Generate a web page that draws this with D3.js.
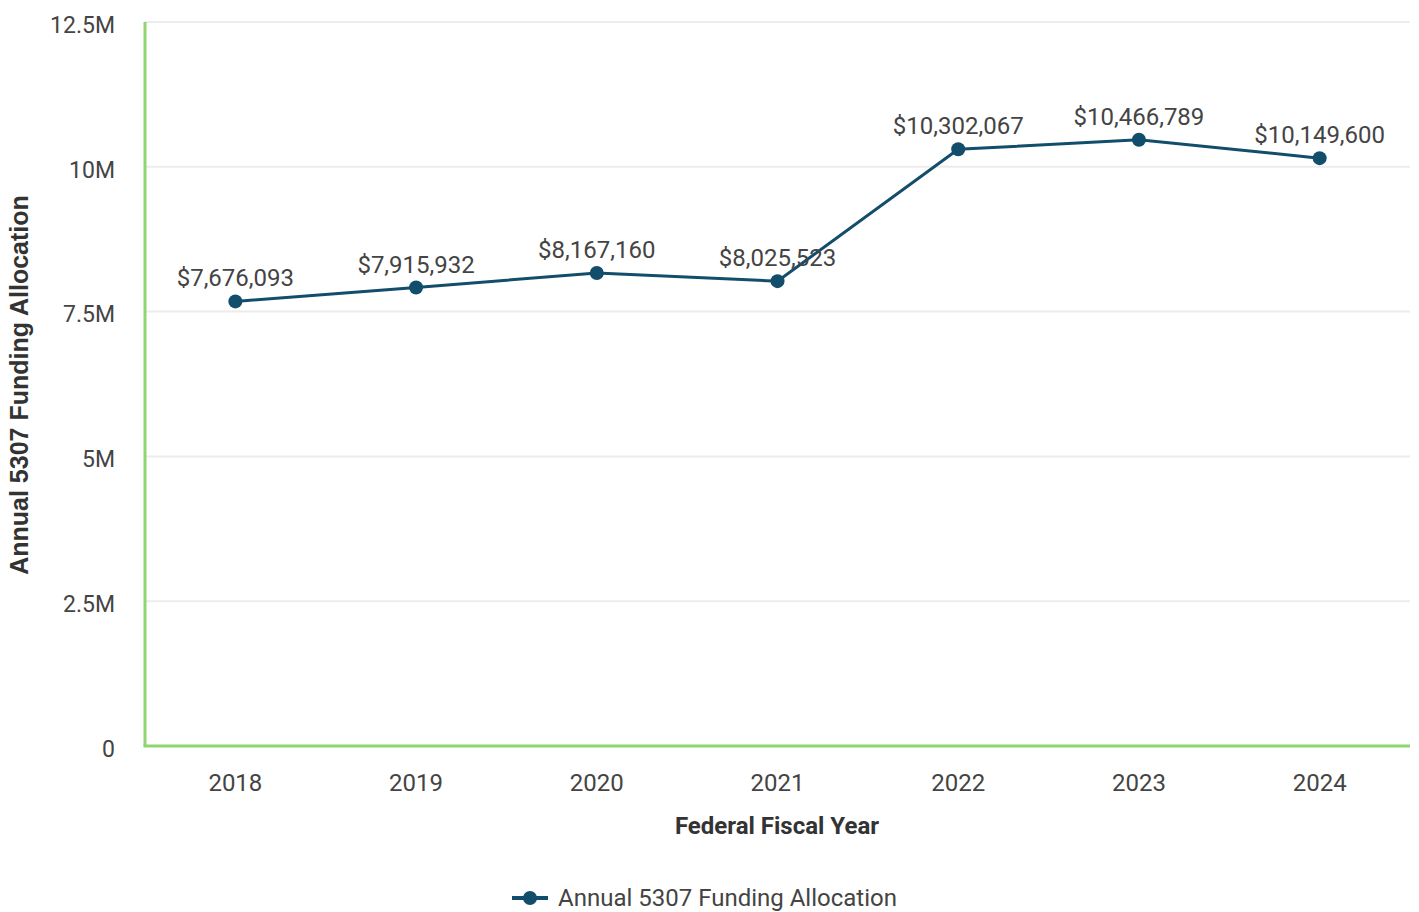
<!DOCTYPE html>
<html><head><meta charset="utf-8">
<script src="https://cdn.jsdelivr.net/npm/d3@7"></script>
<style>body{margin:0;background:#fff}svg{display:block}</style>
</head><body>
<svg id="c" width="1419" height="912"></svg>
<script>
const years = ["2018","2019","2020","2021","2022","2023","2024"];
const values = [7676093, 7915932, 8167160, 8025523, 10302067, 10466789, 10149600];
const yTicks = [0, 2500000, 5000000, 7500000, 10000000, 12500000];
const yTickLabels = ["0","2.5M","5M","7.5M","10M","12.5M"];
const seriesName = "Annual 5307 Funding Allocation";

const svg = d3.select("#c");
const m = {l:145, r:1410, t:22, b:746};
const x = d3.scaleBand().domain(years).range([m.l, m.r]).paddingInner(0).paddingOuter(0);
const y = d3.scaleLinear().domain([0, 12500000]).range([m.b, m.t]);
const lineColor = "#124d6b", green = "#8fd66f", txt = "#444";
const cx = d => x(d) + x.bandwidth()/2;

// grid
svg.append("g").selectAll("line").data(yTicks.slice(1)).join("line")
  .attr("x1", m.l).attr("x2", m.r).attr("y1", d=>y(d)).attr("y2", d=>y(d))
  .attr("stroke", "#ececec").attr("stroke-width", 2);

// y axis
const ya = svg.append("g").attr("transform", `translate(${m.l},0)`)
  .call(d3.axisLeft(y).tickValues(yTicks).tickFormat((d,i)=>yTickLabels[i]).tickSize(0).tickPadding(30));
ya.select(".domain").remove();
ya.selectAll("text").attr("font-family","Roboto").attr("font-size",23).attr("fill",txt).attr("dy","0.45em");

// x axis
const xa = svg.append("g").attr("transform", `translate(0,${m.b})`)
  .call(d3.axisBottom(x).tickSize(0).tickPadding(28));
xa.select(".domain").remove();
xa.selectAll("text").attr("font-family","Roboto").attr("font-size",24).attr("fill",txt);

// green axis lines
svg.append("line").attr("x1",m.l).attr("x2",m.l).attr("y1",m.t).attr("y2",m.b)
  .attr("stroke",green).attr("stroke-width",3);
svg.append("line").attr("x1",m.l-1.5).attr("x2",m.r).attr("y1",m.b).attr("y2",m.b)
  .attr("stroke",green).attr("stroke-width",3);

// line
const data = years.map((yr,i)=>({yr, v: values[i]}));
svg.append("path").datum(data)
  .attr("d", d3.line().x(d=>cx(d.yr)).y(d=>y(d.v)))
  .attr("fill","none").attr("stroke",lineColor).attr("stroke-width",3);
svg.append("g").selectAll("circle").data(data).join("circle")
  .attr("cx", d=>cx(d.yr)).attr("cy", d=>y(d.v)).attr("r",7).attr("fill",lineColor);

// labels
const fmt = d3.format("$,");
svg.append("g").selectAll("text").data(data).join("text")
  .attr("x", d=>cx(d.yr)).attr("y", d=>y(d.v)-15)
  .attr("text-anchor","middle").attr("font-family","Roboto").attr("font-size",24).attr("fill",txt)
  .text(d=>fmt(d.v));

// axis titles
svg.append("text").attr("transform","translate(28,385) rotate(-90)")
  .attr("text-anchor","middle").attr("font-family","Liberation Sans, Arial").attr("font-weight","bold")
  .attr("font-size",25).attr("fill","#333").text(seriesName);
svg.append("text").attr("x",777).attr("y",834).attr("text-anchor","middle")
  .attr("font-family","Roboto").attr("font-weight","bold").attr("font-size",24).attr("fill","#333")
  .text("Federal Fiscal Year");

// legend
const lg = svg.append("g").attr("transform","translate(530,898)");
lg.append("line").attr("x1",-18).attr("x2",18).attr("stroke",lineColor).attr("stroke-width",4);
lg.append("circle").attr("r",7).attr("fill",lineColor);
lg.append("text").attr("x",28).attr("dy","0.35em").attr("font-family","Roboto").attr("font-size",24)
  .attr("fill",txt).text(seriesName);
</script>
</body></html>
